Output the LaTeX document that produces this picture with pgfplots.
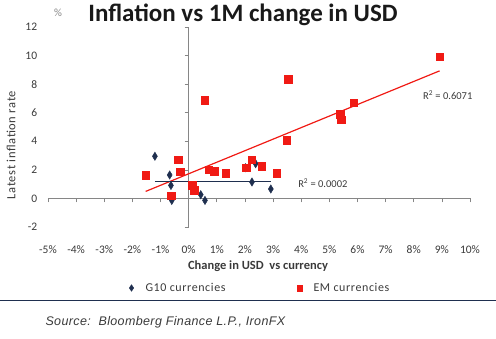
\documentclass[border=0pt]{standalone}
\usepackage{fontspec}
\setmainfont{Carlito}
\newfontfamily\arialfont[LetterSpace=3]{Liberation Sans}
\newfontfamily\spaced[LetterSpace=5]{Carlito}
\usepackage{pgfplots}
\pgfplotsset{compat=1.18}
\definecolor{navy}{HTML}{1F2F4F}
\definecolor{emred}{HTML}{F01A14}
\definecolor{axgray}{HTML}{868686}
\definecolor{txt}{HTML}{3A3A3A}
\begin{document}
\begin{tikzpicture}
\useasboundingbox (-48pt,-112pt) rectangle (448pt,227pt);
\begin{axis}[
  scale only axis, width=422pt, height=200pt,
  xmin=-5, xmax=10, ymin=-2, ymax=12,
  axis x line=middle, axis y line=middle,
  axis line style={-, axgray, line width=0.6pt},
  xtick={-5,-4,...,10}, ytick={-2,0,...,12},
  xticklabels={-5\%,-4\%,-3\%,-2\%,-1\%,0\%,1\%,2\%,3\%,4\%,5\%,6\%,7\%,8\%,9\%,10\%},
  yticklabels={-2,0,2,4,6,8,10,12},
  tick align=outside, major tick length=4pt,
  tick style={axgray, line width=0.6pt},
  hide obscured x ticks=false, hide obscured y ticks=false,
  xticklabel style={anchor=center, yshift=-47.5pt, font=\fontsize{11.5}{13}\selectfont, text=txt},
  yticklabel style={anchor=east, xshift=-144pt, font=\fontsize{11.5}{13}\selectfont, text=txt},
  clip=false,
  legend style={at={(axis description cs:0.501,-0.305)}, anchor=center, draw=none, fill=none,
    legend columns=2, font=\spaced\fontsize{12}{14}\selectfont, text=txt,
    /tikz/every even column/.append style={column sep=68pt}},
]
\addplot[emred, line width=1.2pt, no marks, forget plot] coordinates {(-1.53,0.49) (8.92,8.93)};
\addplot[navy, line width=1.2pt, no marks, forget plot] coordinates {(-1.2,1.19) (2.92,1.19)};
\addplot[only marks, mark=diamond*, mark size=4.2pt, color=navy, mark options={xscale=0.8},
  legend image code/.code={\path[draw=none, fill=none] (0pt,0pt) -- (16pt,0pt);
    \draw[draw=none] plot[mark=diamond*, mark size=3.3pt, mark options={draw=navy, fill=navy, xscale=0.9}] coordinates {(4pt,0pt)};}] coordinates {
(-1.20,2.95) (-0.675,1.64) (-0.63,0.91) (-0.60,-0.14) (0.43,0.26) (0.58,-0.14)
(2.02,2.15) (2.38,2.43) (2.25,1.15) (2.92,0.66)};
\addlegendentry{G10 currencies}
\addplot[only marks, mark=square*, mark size=3.8pt, color=emred,
  legend image code/.code={\path[draw=none, fill=none] (0pt,0pt) -- (16pt,0pt);
    \draw[draw=none] plot[mark=square*, mark size=2.8pt, mark options={draw=emred, fill=emred}] coordinates {(4pt,0pt)};}] coordinates {
(-1.53,1.64) (-0.37,2.71) (-0.30,1.87) (-0.62,0.19) (0.12,0.91) (0.20,0.58)
(0.71,2.01) (0.90,1.89) (1.31,1.75) (2.05,2.15) (2.24,2.71) (2.60,2.27) (3.13,1.75)
(0.57,6.88) (3.53,8.33) (3.49,4.07) (5.39,5.89) (5.40,5.70) (5.42,5.52) (5.87,6.69) (8.92,9.92)};
\addlegendentry{EM currencies}
\node[anchor=west, font=\fontsize{10.5}{12}\selectfont, text=txt] at (axis cs:8.21,7.23) {R\textsuperscript{2} = 0.6071};
\node[anchor=west, font=\fontsize{10.5}{12}\selectfont, text=txt] at (axis cs:3.77,1.05) {R\textsuperscript{2} = 0.0002};
\end{axis}
\node[font=\fontsize{25}{29}\selectfont\bfseries, text=black!90] at (195pt,212pt) {Inflation vs 1M change in USD};
\node[font=\fontsize{11}{13}\selectfont, text=axgray] at (10pt,214pt) {\%};
\node[rotate=90, font=\spaced\fontsize{12.5}{14}\selectfont, text=txt] at (-37pt,82pt) {Latest inflation rate};
\node[font=\fontsize{12.5}{14}\selectfont\bfseries, text=txt] at (210pt,-39pt) {Change in USD\ \ vs currency};
\draw[navy, line width=0.8pt] (-48pt,-73pt) -- (448pt,-73pt);
\node[anchor=west, font=\arialfont\itshape\fontsize{12.5}{14}\selectfont, text=txt] at (-6pt,-95pt) {Source:\ \ Bloomberg Finance L.P., IronFX};
\end{tikzpicture}
\end{document}
